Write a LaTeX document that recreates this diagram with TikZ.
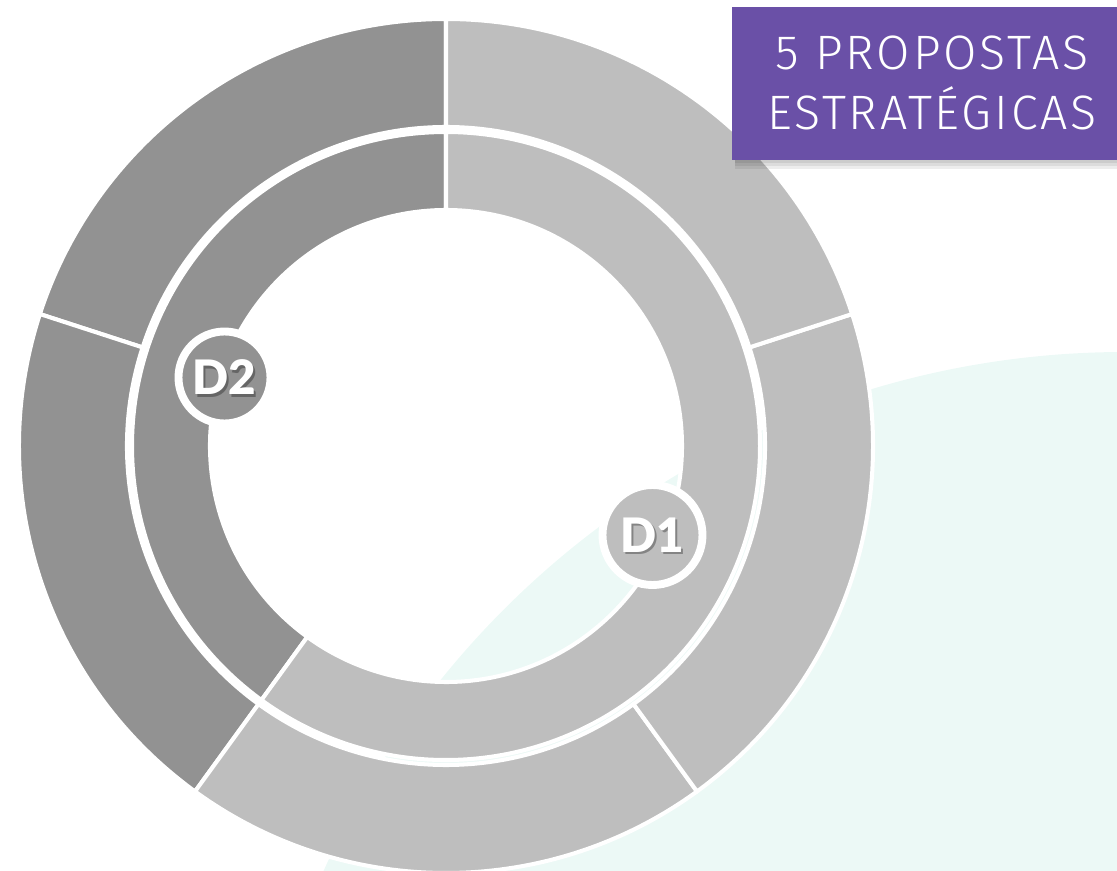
\documentclass[tikz,border=0pt]{standalone}
\usepackage{fontspec}
\usepackage{tikz}
\usetikzlibrary{positioning}
\newfontfamily\titlefont{Fira Sans}[UprightFont=* Light, LetterSpace=6]
\newfontfamily\badgefont{Lato}[UprightFont=* Black]
\definecolor{SegDark}{HTML}{929292}
\definecolor{SegLight}{HTML}{BEBEBE}
\definecolor{MintBack}{HTML}{ECF9F6}
\definecolor{TitlePurple}{HTML}{6A50A7}

\begin{document}
\begin{tikzpicture}[
        x=0.02cm, y=0.02cm,
        seg/.style={draw=white, line width=2.3pt, line join=miter},
        badge/.style={circle, draw=white, line width=4.5pt, inner sep=0pt},
        badgetext/.style={font=\badgefont\fontsize{27}{27}\selectfont, text=white},
        titlebox/.style={fill=TitlePurple, minimum width=385*0.02cm, minimum height=153*0.02cm, inner sep=0pt}
    ]
    \useasboundingbox (0,0) rectangle (1117,870);
    \clip (0,0) rectangle (1117,870);
    % pale background disc
    \fill[MintBack] (1125,-360) circle[radius=878];
    % rings around the centre
    \begin{scope}[shift={(446,424)}]
        \foreach \a/\b/\c in {90/162/SegDark, 162/234/SegDark, 234/306/SegLight, 306/378/SegLight, 18/90/SegLight}
            \draw[seg, fill=\c] (\a:427) arc[start angle=\a, end angle=\b, radius=427]
                -- (\b:319) arc[start angle=\b, end angle=\a, radius=319] -- cycle;
        \foreach \a/\b/\c in {90/234/SegDark, 234/450/SegLight}
            \draw[seg, fill=\c] (\a:314) arc[start angle=\a, end angle=\b, radius=314]
                -- (\b:236) arc[start angle=\b, end angle=\a, radius=236] -- cycle;
    \end{scope}
    % badges
    \node[badge, fill=SegDark, minimum size=92*0.02cm] (d2) at (224.5,492.5) {};
    \node[badge, fill=SegLight, minimum size=100*0.02cm] (d1) at (652.5,335) {};
    \foreach \n/\t in {d2/D2, d1/D1} {
        \node[badgetext, text=black, opacity=0.3] at ([shift={(2,-2.5)}]\n) {\t};
        \node[badgetext] at (\n) {\t};
    }
    % title with shadow
    \foreach \k in {3,6,9}
        \fill[black, opacity=0.07] (735,710-\k) rectangle (1117,860);
    \node[titlebox, anchor=north east] (title) at (1117,863) {};
    \node[text=white, align=center, font=\titlefont\fontsize{27.5}{34.6}\selectfont,
          inner sep=0pt] (titletext) at (932,787) {5 PROPOSTAS\\ESTRATÉGICAS};
\end{tikzpicture}
\end{document}
